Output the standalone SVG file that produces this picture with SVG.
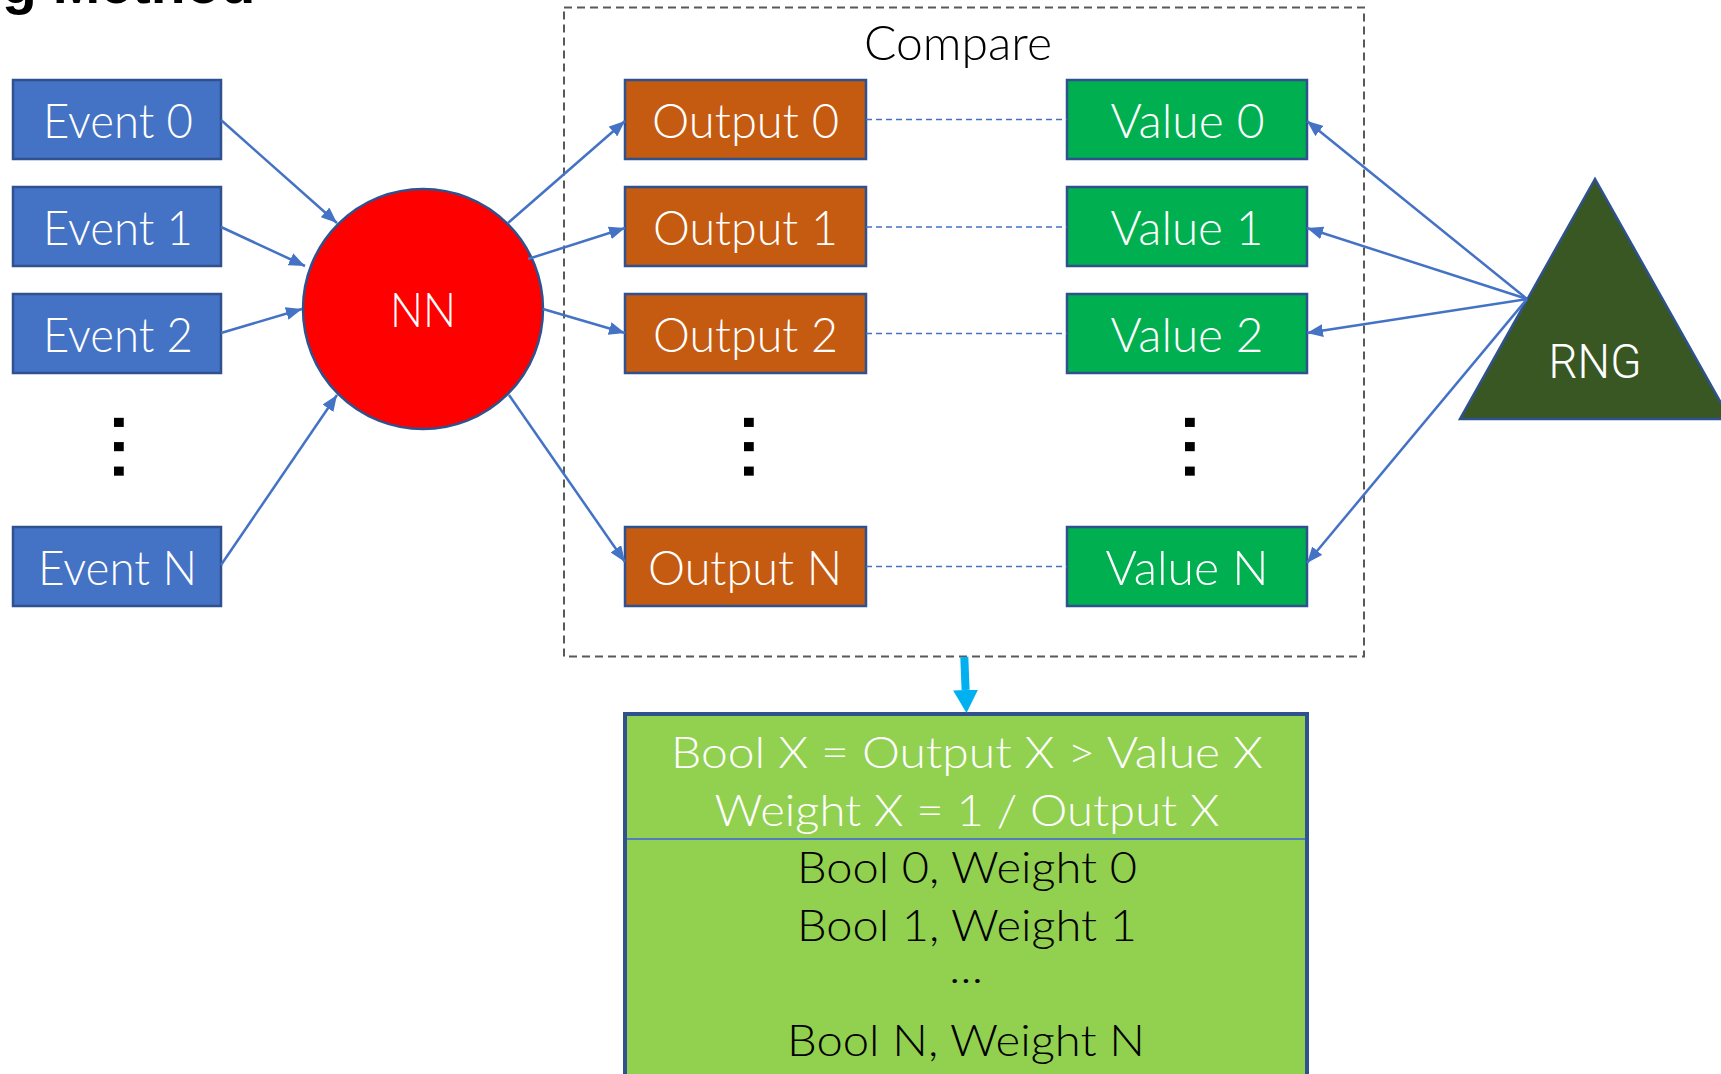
<svg xmlns="http://www.w3.org/2000/svg" width="1721" height="1074" viewBox="0 0 1721 1074">
  <defs>
    <marker id="arrow" markerUnits="userSpaceOnUse" markerWidth="17" markerHeight="13" refX="16" refY="6.5" orient="auto">
      <path d="M0,0 L16,6.5 L0,13 z" fill="#4472C4"/>
    </marker>
    <marker id="arrowCyan" markerUnits="userSpaceOnUse" markerWidth="23" markerHeight="25" refX="0" refY="12.5" orient="auto">
      <path d="M0,0 L23,12.5 L0,25 z" fill="#00B0F0"/>
    </marker>
    <style>
      .event { fill: #4472C4; stroke: #2F528F; stroke-width: 2.5; }
      .output { fill: #C55A11; stroke: #2F528F; stroke-width: 2.5; }
      .value { fill: #00B050; stroke: #2F528F; stroke-width: 2.5; }
      .lbl { font-family: Lato, "Liberation Sans", sans-serif; font-weight: 300; font-size: 48px; fill: #FFFFFF; text-anchor: middle; }
      .dark { fill: #000000; }
      .res { font-family: Lato, "Liberation Sans", sans-serif; font-weight: 300; font-size: 44px; text-anchor: middle; }
      .dots { font-family: "DejaVu Sans", sans-serif; font-weight: bold; font-size: 52px; fill: #000000; letter-spacing: 4.7px; }
      .link { stroke: #4472C4; stroke-width: 2.5; fill: none; marker-end: url(#arrow); }
      .pair { stroke: #4472C4; stroke-width: 1.5; stroke-dasharray: 6 4; fill: none; }
    </style>
  </defs>

  <rect width="1721" height="1074" fill="#FFFFFF"/>

  <!-- heading, clipped by the top edge -->
  <text x="2" y="3" font-family="Liberation Sans, Arial, sans-serif" font-weight="bold" font-size="57" fill="#000000">g Method</text>

  <!-- compare frame -->
  <g id="compare">
    <rect x="564" y="7.5" width="800" height="649" fill="none" stroke="#595959" stroke-width="2" stroke-dasharray="8 5"/>
    <text class="lbl dark" x="958" y="60" font-size="46" textLength="188" lengthAdjust="spacingAndGlyphs">Compare</text>
  </g>

  <!-- inputs -->
  <g id="event0"><rect class="event" x="13" y="80" width="208" height="79"/><text class="lbl" x="118" y="137.7" textLength="150" lengthAdjust="spacingAndGlyphs">Event 0</text></g>
  <g id="event1"><rect class="event" x="13" y="187" width="208" height="79"/><text class="lbl" x="118" y="245" textLength="150" lengthAdjust="spacingAndGlyphs">Event 1</text></g>
  <g id="event2"><rect class="event" x="13" y="294" width="208" height="79"/><text class="lbl" x="118" y="351.7" textLength="150" lengthAdjust="spacingAndGlyphs">Event 2</text></g>
  <g id="eventDots"><text class="dots" transform="translate(114,412.4) rotate(90)">...</text></g>
  <g id="eventN"><rect class="event" x="13" y="527" width="208" height="79"/><text class="lbl" x="117.5" y="585" textLength="159" lengthAdjust="spacingAndGlyphs">Event N</text></g>

  <!-- network -->
  <g id="nn">
    <circle cx="423" cy="309" r="120" fill="#FF0000" stroke="#2F528F" stroke-width="2.5"/>
    <text class="lbl" x="423" y="327" textLength="66" lengthAdjust="spacingAndGlyphs">NN</text>
  </g>

  <!-- outputs -->
  <g id="output0"><rect class="output" x="625" y="80" width="241" height="79"/><text class="lbl" x="745.5" y="137.7" textLength="187" lengthAdjust="spacingAndGlyphs">Output 0</text></g>
  <g id="output1"><rect class="output" x="625" y="187" width="241" height="79"/><text class="lbl" x="745.5" y="245" textLength="185" lengthAdjust="spacingAndGlyphs">Output 1</text></g>
  <g id="output2"><rect class="output" x="625" y="294" width="241" height="79"/><text class="lbl" x="745.5" y="351.7" textLength="185" lengthAdjust="spacingAndGlyphs">Output 2</text></g>
  <g id="outputDots"><text class="dots" transform="translate(744,412.4) rotate(90)">...</text></g>
  <g id="outputN"><rect class="output" x="625" y="527" width="241" height="79"/><text class="lbl" x="745" y="585" textLength="194" lengthAdjust="spacingAndGlyphs">Output N</text></g>

  <!-- random values -->
  <g id="value0"><rect class="value" x="1067" y="80" width="240" height="79"/><text class="lbl" x="1187.5" y="137.7" textLength="154" lengthAdjust="spacingAndGlyphs">Value 0</text></g>
  <g id="value1"><rect class="value" x="1067" y="187" width="240" height="79"/><text class="lbl" x="1187" y="245" textLength="153" lengthAdjust="spacingAndGlyphs">Value 1</text></g>
  <g id="value2"><rect class="value" x="1067" y="294" width="240" height="79"/><text class="lbl" x="1187" y="351.7" textLength="153" lengthAdjust="spacingAndGlyphs">Value 2</text></g>
  <g id="valueDots"><text class="dots" transform="translate(1185,412.4) rotate(90)">...</text></g>
  <g id="valueN"><rect class="value" x="1067" y="527" width="240" height="79"/><text class="lbl" x="1187" y="585" textLength="163" lengthAdjust="spacingAndGlyphs">Value N</text></g>

  <!-- generator -->
  <g id="rng">
    <polygon points="1595,179 1460,419 1730,419" fill="#385723" stroke="#2F528F" stroke-width="2.5"/>
    <text x="1595" y="378" font-family="Roboto, 'Liberation Sans', sans-serif" font-weight="300" font-size="49" fill="#FFFFFF" text-anchor="middle" textLength="93" lengthAdjust="spacingAndGlyphs">RNG</text>
  </g>

  <!-- result table -->
  <g id="result">
    <rect x="625" y="714" width="682" height="366" fill="#92D050" stroke="#2F528F" stroke-width="4"/>
    <line x1="627" y1="839" x2="1305" y2="839" stroke="#4F7EC0" stroke-width="2"/>
    <text class="res" x="967" y="768" fill="#FFFFFF" textLength="592" lengthAdjust="spacingAndGlyphs">Bool X = Output X &gt; Value X</text>
    <text class="res" x="967" y="826" fill="#FFFFFF" textLength="505" lengthAdjust="spacingAndGlyphs">Weight X = 1 / Output X</text>
    <text class="res" x="967" y="883" fill="#000000" textLength="340" lengthAdjust="spacingAndGlyphs">Bool 0, Weight 0</text>
    <text class="res" x="967" y="940.5" fill="#000000" textLength="340" lengthAdjust="spacingAndGlyphs">Bool 1, Weight 1</text>
    <text class="res" x="966" y="983" fill="#000000" textLength="34" lengthAdjust="spacingAndGlyphs">...</text>
    <text class="res" x="966" y="1056" fill="#000000" textLength="358" lengthAdjust="spacingAndGlyphs">Bool N, Weight N</text>
  </g>

  <!-- connectors -->
  <g id="connectors">
    <line class="link" x1="221" y1="120" x2="337" y2="223"/>
    <line class="link" x1="221" y1="227" x2="305" y2="266"/>
    <line class="link" x1="221" y1="333" x2="302" y2="309"/>
    <line class="link" x1="221" y1="565" x2="337" y2="395"/>

    <line class="link" x1="508" y1="223" x2="625" y2="121"/>
    <line class="link" x1="528" y1="259" x2="625" y2="228"/>
    <line class="link" x1="543" y1="309" x2="625" y2="333"/>
    <line class="link" x1="509" y1="395" x2="625" y2="562"/>

    <line class="link" x1="1527" y1="299" x2="1307" y2="121"/>
    <line class="link" x1="1527" y1="299" x2="1307" y2="228"/>
    <line class="link" x1="1527" y1="299" x2="1307" y2="333"/>
    <line class="link" x1="1527" y1="299" x2="1307" y2="563"/>

    <line class="pair" x1="866" y1="119.5" x2="1067" y2="119.5"/>
    <line class="pair" x1="866" y1="227" x2="1067" y2="227"/>
    <line class="pair" x1="866" y1="333.5" x2="1067" y2="333.5"/>
    <line class="pair" x1="866" y1="566.5" x2="1067" y2="566.5"/>

    <line x1="964.3" y1="657" x2="965.6" y2="690" stroke="#00B0F0" stroke-width="8" marker-end="url(#arrowCyan)"/>
  </g>
</svg>
